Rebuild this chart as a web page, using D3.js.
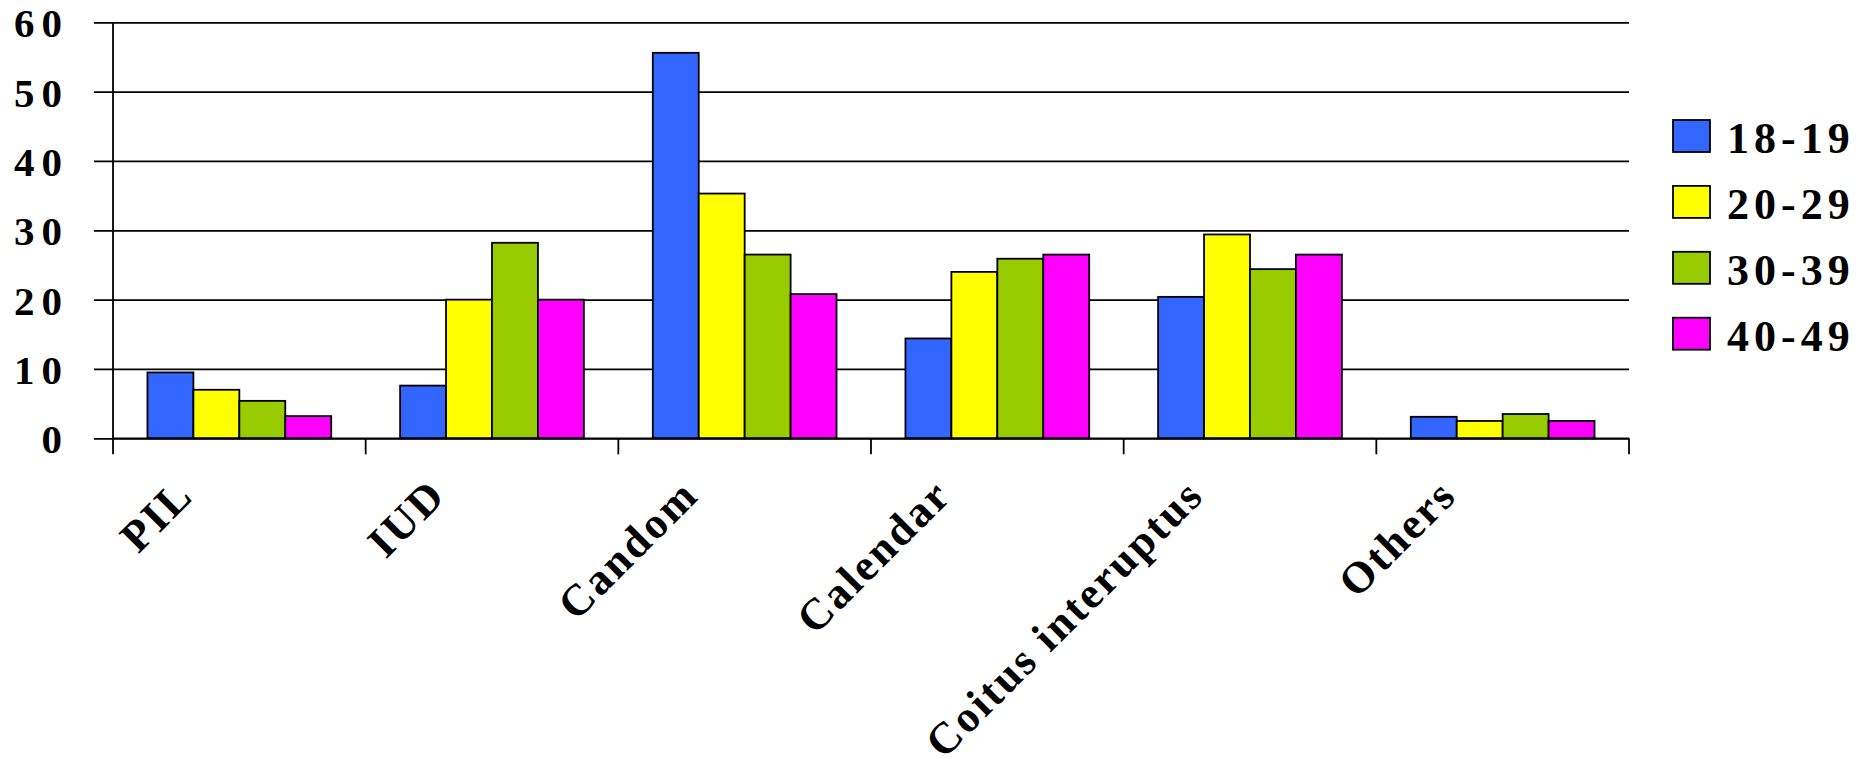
<!DOCTYPE html>
<html>
<head>
<meta charset="utf-8">
<script src="https://cdn.jsdelivr.net/npm/d3@7"></script>
<style>
  html, body { margin: 0; padding: 0; background: #ffffff; }
  svg { display: block; }
  text { font-family: "Liberation Serif", "Times New Roman", serif; font-weight: bold; fill: #000; }
</style>
</head>
<body>
<svg id="chart" width="1862" height="767"></svg>
<script>
// Contraceptive method use (%) by age group
const methods = ["PIL", "IUD", "Candom", "Calendar", "Coitus interuptus", "Others"];
const ageGroups = ["18-19", "20-29", "30-39", "40-49"];
const age18_19 = [9.5, 7.6, 55.6, 14.4, 20.4, 3.1];
const age20_29 = [7.0, 20.0, 35.3, 24.0, 29.4, 2.5];
const age30_39 = [5.4, 28.2, 26.5, 25.9, 24.4, 3.5];
const age40_49 = [3.2, 20.0, 20.8, 26.5, 26.5, 2.5];
const yTicks = [0, 10, 20, 30, 40, 50, 60];
const colors = ["#3366FF", "#FFFF00", "#99CC00", "#FF00FF"];

const seriesValues = [age18_19, age20_29, age30_39, age40_49];

const svg = d3.select("#chart");
const plot = { left: 113, right: 1629, top: 22.3, bottom: 438.3 };

const x = d3.scaleBand()
  .domain(methods)
  .range([plot.left, plot.right])
  .paddingInner(0)
  .paddingOuter(0);

const xInner = d3.scaleBand()
  .domain(ageGroups)
  .range([0, x.bandwidth()])
  .paddingInner(0)
  .paddingOuter(0.75);

const y = d3.scaleLinear()
  .domain([0, 60])
  .range([plot.bottom, plot.top]);

// Horizontal gridlines with short outward ticks
const yAxis = d3.axisLeft(y)
  .tickValues(yTicks)
  .tickSize(-(plot.right - plot.left))
  .tickSizeOuter(0)
  .tickFormat("");
const gy = svg.append("g")
  .attr("transform", `translate(${plot.left},0)`)
  .call(yAxis);
gy.select(".domain").remove();
gy.selectAll(".tick line")
  .attr("x1", -19)
  .attr("stroke", "#000")
  .attr("stroke-width", 1.7);

// Y tick labels
svg.append("g").selectAll("text")
  .data(yTicks)
  .join("text")
  .attr("x", 69)
  .attr("y", d => y(d) + 15)
  .attr("text-anchor", "end")
  .attr("font-size", 41)
  .attr("letter-spacing", 7)
  .text(d => d);

// Bars
const groups = svg.append("g").selectAll("g")
  .data(methods)
  .join("g")
  .attr("transform", d => `translate(${x(d)},0)`);

groups.selectAll("rect")
  .data((m, i) => ageGroups.map((a, k) => ({ age: a, value: seriesValues[k][i], k })))
  .join("rect")
  .attr("x", d => xInner(d.age))
  .attr("width", xInner.bandwidth())
  .attr("y", d => y(d.value))
  .attr("height", d => y(0) - y(d.value))
  .attr("fill", d => colors[d.k])
  .attr("stroke", "#000")
  .attr("stroke-width", 1.8);

// Category axis: baseline and tick marks between categories
svg.append("line")
  .attr("x1", plot.left).attr("x2", plot.right)
  .attr("y1", plot.bottom).attr("y2", plot.bottom)
  .attr("stroke", "#000").attr("stroke-width", 1.8);

svg.append("line")
  .attr("x1", plot.left).attr("x2", plot.left)
  .attr("y1", plot.top).attr("y2", plot.bottom + 16)
  .attr("stroke", "#000").attr("stroke-width", 1.8);

const boundaries = methods.map(m => x(m) + x.bandwidth());
svg.append("g").selectAll("line")
  .data(boundaries)
  .join("line")
  .attr("x1", d => d).attr("x2", d => d)
  .attr("y1", plot.bottom).attr("y2", plot.bottom + 16)
  .attr("stroke", "#000").attr("stroke-width", 1.8);

// Rotated category labels
svg.append("g").selectAll("text")
  .data(methods)
  .join("text")
  .attr("text-anchor", "end")
  .attr("font-size", 44)
  .attr("letter-spacing", 2.5)
  .attr("transform", d => `translate(${x(d) + x.bandwidth() / 2 - 44},${plot.bottom + 59}) rotate(-45)`)
  .text(d => d);

// Legend
const legend = svg.append("g").selectAll("g")
  .data(ageGroups)
  .join("g")
  .attr("transform", (d, i) => `translate(1673,${120 + i * 65.9})`);

legend.append("rect")
  .attr("width", 37)
  .attr("height", 32)
  .attr("fill", (d, i) => colors[i])
  .attr("stroke", "#000")
  .attr("stroke-width", 1.8);

legend.append("text")
  .attr("x", 54)
  .attr("y", 33)
  .attr("font-size", 44)
  .attr("letter-spacing", 5)
  .text(d => d);
</script>
</body>
</html>
